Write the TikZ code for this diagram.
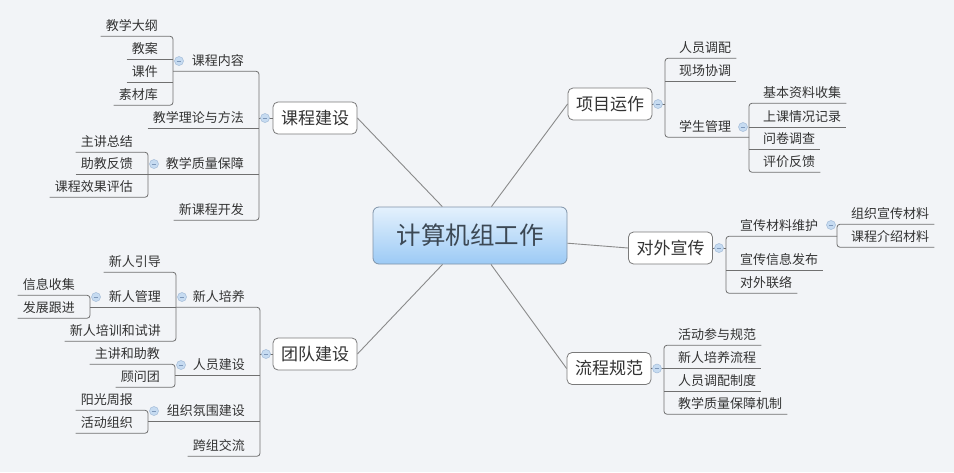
\documentclass[tikz,border=0pt]{standalone}
\usepackage{fontspec}
\setmainfont{Noto Sans CJK SC}
\usetikzlibrary{calc}
\definecolor{bgc}{HTML}{F2F4F7}
\definecolor{txt}{HTML}{333333}
\definecolor{ctxt}{HTML}{3C4854}
\definecolor{lnc}{HTML}{707070}
\definecolor{cnc}{HTML}{8A8A8A}
\definecolor{tgfill}{HTML}{C6DBF1}
\definecolor{tgdraw}{HTML}{A3BCD8}
\definecolor{tgminus}{HTML}{7E98BA}
\definecolor{ctop}{HTML}{E4F1FD}
\definecolor{cbot}{HTML}{9CCAF5}
\definecolor{cdraw}{HTML}{7F93A8}
\definecolor{tpdraw}{HTML}{7A7A7A}
\tikzset{
 leaf/.style={font=\fontsize{13pt}{15pt}\selectfont, text=txt, inner xsep=5pt, inner ysep=5.1pt, text height=9.9pt, text depth=0pt},
 topic/.style={draw=tpdraw, fill=white, rounded corners=5pt, line width=0.8pt, font=\fontsize{17pt}{20pt}\selectfont, text=txt, minimum width=84pt, minimum height=32pt, inner xsep=0pt, inner ysep=0pt, text height=12.9pt, text depth=0pt},
 central/.style={draw=cdraw, top color=ctop, bottom color=cbot, rounded corners=6pt, line width=0.8pt, font=\fontsize{24.5pt}{28pt}\selectfont, text=ctxt, minimum width=194pt, minimum height=57pt, inner sep=0pt, text height=18.6pt, text depth=0pt},
 ul/.style={draw=lnc, line width=0.8pt},
 br/.style={ul, rounded corners=3pt},
 conn/.style={draw=cnc, line width=0.9pt},
 tog/.style={circle, draw=tgdraw, fill=tgfill, line width=0.5pt, minimum size=9pt, inner sep=0pt, path picture={\draw[tgminus, line width=0.9pt] ([xshift=-2.3pt]path picture bounding box.center) -- ([xshift=2.3pt]path picture bounding box.center);}}
}
\begin{document}
\begin{tikzpicture}[x=1pt,y=-1pt]
\fill[bgc] (0,0) rectangle (954,472);
\useasboundingbox (0,0) rectangle (954,472);
% bracket coordinates
\coordinate (bA) at (259,0);
\coordinate (bA1) at (173,0);
\coordinate (bA3) at (148,0);
\coordinate (bB) at (260,0);
\coordinate (bB1) at (176,0);
\coordinate (bB12) at (90,0);
\coordinate (bB2) at (175,0);
\coordinate (bB3) at (148,0);
\coordinate (bC) at (665,0);
\coordinate (bC3) at (749,0);
\coordinate (bD) at (726,0);
\coordinate (bD1) at (837,0);
\coordinate (bE) at (664,0);
% central and topics
\node[central] (c) at (470,235.5) {计算机组工作};
\node[topic] (kc) at (315,118) {课程建设};
\node[topic] (td) at (315,354) {团队建设};
\node[topic] (xm) at (610,104) {项目运作};
\node[topic] (dw) at (670.5,248) {对外宣传};
\node[topic] (lc) at (609,368.5) {流程规范};
% left top
\node[leaf,anchor=east] (a1) at (249,61) {课程内容};
\node[leaf,anchor=east] (a11) at (163,26) {教学大纲};
\node[leaf,anchor=east] (a12) at (163,49) {教案};
\node[leaf,anchor=east] (a13) at (163,72) {课件};
\node[leaf,anchor=east] (a14) at (163,95) {素材库};
\node[leaf,anchor=east] (a2) at (249,118) {教学理论与方法};
\node[leaf,anchor=east] (a3) at (249,164) {教学质量保障};
\node[leaf,anchor=east] (a31) at (138,142) {主讲总结};
\node[leaf,anchor=east] (a32) at (138,164) {助教反馈};
\node[leaf,anchor=east] (a33) at (138,187) {课程效果评估};
\node[leaf,anchor=east] (a4) at (249,210) {新课程开发};
% left bottom
\node[leaf,anchor=east] (b1) at (250,297) {新人培养};
\node[leaf,anchor=east] (b11) at (166,262) {新人引导};
\node[leaf,anchor=east] (b12) at (166,297) {新人管理};
\node[leaf,anchor=east] (b121) at (80,285) {信息收集};
\node[leaf,anchor=east] (b122) at (80,308) {发展跟进};
\node[leaf,anchor=east] (b13) at (166,331) {新人培训和试讲};
\node[leaf,anchor=east] (b2) at (250,365) {人员建设};
\node[leaf,anchor=east] (b21) at (165,354) {主讲和助教};
\node[leaf,anchor=east] (b22) at (165,377) {顾问团};
\node[leaf,anchor=east] (b3) at (250,411) {组织氛围建设};
\node[leaf,anchor=east] (b31) at (138,400) {阳光周报};
\node[leaf,anchor=east] (b32) at (138,423) {活动组织};
\node[leaf,anchor=east] (b4) at (250,446) {跨组交流};
% right top
\node[leaf,anchor=west] (c1) at (674,48) {人员调配};
\node[leaf,anchor=west] (c2) at (674,71) {现场协调};
\node[leaf,anchor=west] (c3) at (674,127) {学生管理};
\node[leaf,anchor=west] (c31) at (758,93) {基本资料收集};
\node[leaf,anchor=west] (c32) at (758,117) {上课情况记录};
\node[leaf,anchor=west] (c33) at (758,139) {问卷调查};
\node[leaf,anchor=west] (c34) at (758,162) {评价反馈};
% right middle
\node[leaf,anchor=west] (d1) at (735,226) {宣传材料维护};
\node[leaf,anchor=west] (d11) at (846,214) {组织宣传材料};
\node[leaf,anchor=west] (d12) at (846,237) {课程介绍材料};
\node[leaf,anchor=west] (d2) at (735,260) {宣传信息发布};
\node[leaf,anchor=west] (d3) at (735,283) {对外联络};
% right bottom
\node[leaf,anchor=west] (e1) at (673,335) {活动参与规范};
\node[leaf,anchor=west] (e2) at (673,358) {新人培养流程};
\node[leaf,anchor=west] (e3) at (673,381) {人员调配制度};
\node[leaf,anchor=west] (e4) at (673,404) {教学质量保障机制};
% connectors from centre
\draw[conn] (c) -- (kc.east);
\draw[conn] (c) -- (td.east);
\draw[conn] (c) -- (xm.west);
\draw[conn] (c) -- (dw.west);
\draw[conn] (c) -- (lc.west);
% left top brackets
\draw[ul] (kc.west) -- (kc.west -| bA);
\draw[br] (a1.south -| bA1) -- (a1.south -| bA) -- (a4.south -| bA) -- (a4.south west);
\draw[ul] (a2.south west) -- (a2.south -| bA);
\draw[ul] (a3.south -| bA3) -- (a3.south -| bA);
\draw[br] (a11.south west) -- (a11.south -| bA1) -- (a14.south -| bA1) -- (a14.south west);
\draw[ul] (a12.south west) -- (a12.south -| bA1);
\draw[ul] (a13.south west) -- (a13.south -| bA1);
\draw[br] (a31.south west) -- (a31.south -| bA3) -- (a33.south -| bA3) -- (a33.south west);
\draw[ul] (a32.south west) -- (a32.south -| bA3);
% left bottom brackets
\draw[ul] (td.west) -- (td.west -| bB);
\draw[br] (b1.south -| bB1) -- (b1.south -| bB) -- (b4.south -| bB) -- (b4.south west);
\draw[ul] (b2.south -| bB2) -- (b2.south -| bB);
\draw[ul] (b3.south -| bB3) -- (b3.south -| bB);
\draw[br] (b11.south west) -- (b11.south -| bB1) -- (b13.south -| bB1) -- (b13.south west);
\draw[ul] (b12.south -| bB12) -- (b12.south -| bB1);
\draw[br] (b121.south west) -- (b121.south -| bB12) -- (b122.south -| bB12) -- (b122.south west);
\draw[br] (b21.south west) -- (b21.south -| bB2) -- (b22.south -| bB2) -- (b22.south west);
\draw[br] (b31.south west) -- (b31.south -| bB3) -- (b32.south -| bB3) -- (b32.south west);
% right top brackets
\draw[ul] (xm.east) -- (xm.east -| bC);
\draw[br] (c1.south east) -- (c1.south -| bC) -- (c3.south -| bC) -- (c3.south -| bC3);
\draw[ul] (c2.south -| bC) -- (c2.south east);
\draw[br] (c31.south east) -- (c31.south -| bC3) -- (c34.south -| bC3) -- (c34.south east);
\draw[ul] (c32.south -| bC3) -- (c32.south east);
\draw[ul] (c33.south -| bC3) -- (c33.south east);
% right middle brackets
\draw[ul] (dw.east) -- (dw.east -| bD);
\draw[br] (d1.south -| bD1) -- (d1.south -| bD) -- (d3.south -| bD) -- (d3.south east);
\draw[ul] (d2.south -| bD) -- (d2.south east);
\draw[br] (d11.south east) -- (d11.south -| bD1) -- (d12.south -| bD1) -- (d12.south east);
% right bottom brackets
\draw[ul] (lc.east) -- (lc.east -| bE);
\draw[br] (e1.south east) -- (e1.south -| bE) -- (e4.south -| bE) -- (e4.south east);
\draw[ul] (e2.south -| bE) -- (e2.south east);
\draw[ul] (e3.south -| bE) -- (e3.south east);
% toggles
\node[tog] (tA) at (265,118) {};
\node[tog] (tA1) at (179,61) {};
\node[tog] (tA3) at (154,164) {};
\node[tog] (tB) at (266,354) {};
\node[tog] (tB1) at (182,297) {};
\node[tog] (tB12) at (96,297) {};
\node[tog] (tB2) at (181,365) {};
\node[tog] (tB3) at (154,411) {};
\node[tog] (tC) at (658,104) {};
\node[tog] (tC3) at (743,127) {};
\node[tog] (tD) at (719,248) {};
\node[tog] (tD1) at (831,225) {};
\node[tog] (tE) at (657,368.5) {};
\end{tikzpicture}
\end{document}
